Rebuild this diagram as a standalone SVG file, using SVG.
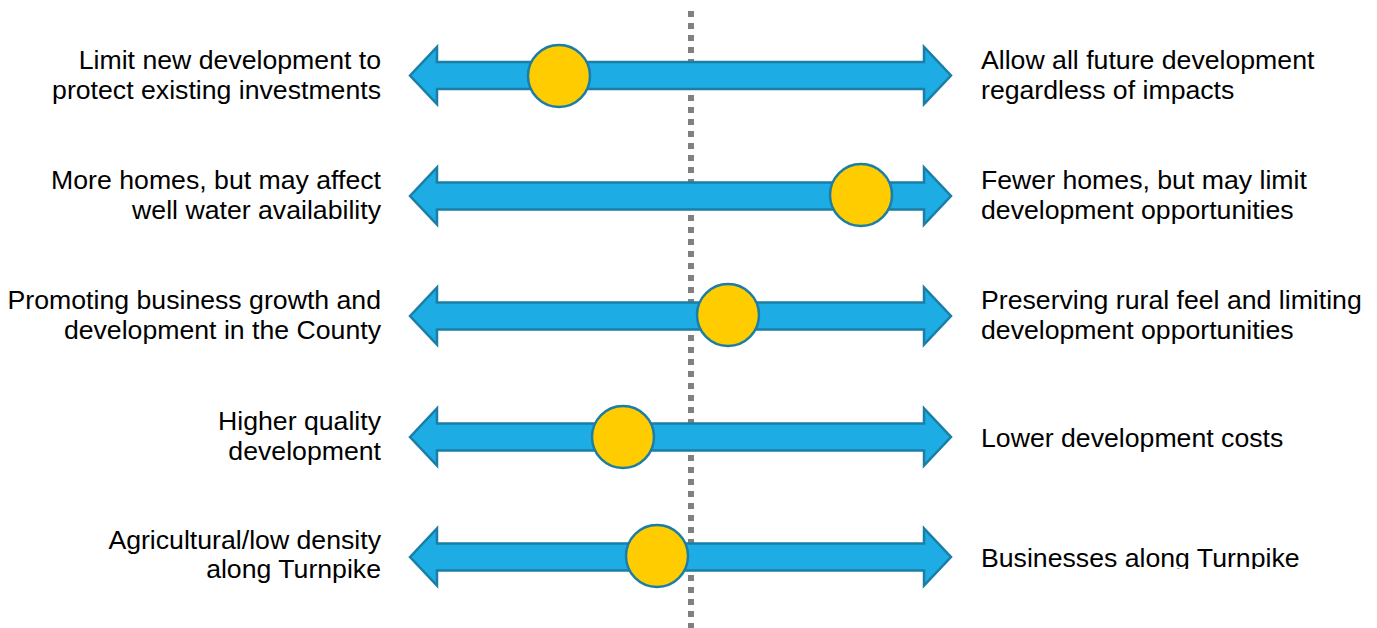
<svg xmlns="http://www.w3.org/2000/svg" width="1377" height="628" viewBox="0 0 1377 628">
<defs>
<style>
.arrow{fill:#1DACE3;stroke:#1A7EA6;stroke-width:2.5;stroke-linejoin:miter}
.dot{fill:#FFCC00;stroke:#1A7EA6;stroke-width:2.5}
.t{font-family:"Liberation Sans",Arial,sans-serif;font-size:26.67px;fill:#000}
.l{text-anchor:end}
.center{stroke:#808080;stroke-width:6;stroke-dasharray:6 6;fill:none}
</style>
<path id="arr" d="M410,0 L437,-28.5 L437,-13.5 L924,-13.5 L924,-28.5 L951,0 L924,28.5 L924,13.5 L437,13.5 L437,28.5 Z"/>
<clipPath id="clipR5"><rect x="960" y="500" width="417" height="69"/></clipPath>
<clipPath id="clipL5"><rect x="0" y="500" width="400" height="85"/></clipPath>
</defs>
<rect width="1377" height="628" fill="#fff"/>
<g id="midline">
<line class="center" x1="691" y1="11" x2="691" y2="628"/>
</g>
<g id="row1">
<use href="#arr" class="arrow" transform="translate(0,75.5)"/>
<circle class="dot" cx="559" cy="76" r="31"/>
<text class="t l" x="381" y="69">Limit new development to</text>
<text class="t l" x="381" y="99">protect existing investments</text>
<text class="t" x="981" y="69">Allow all future development</text>
<text class="t" x="981" y="99">regardless of impacts</text>
</g>
<g id="row2">
<use href="#arr" class="arrow" transform="translate(0,196)"/>
<circle class="dot" cx="861" cy="195" r="31"/>
<text class="t l" x="381" y="189">More homes, but may affect</text>
<text class="t l" x="381" y="219">well water availability</text>
<text class="t" x="981" y="189">Fewer homes, but may limit</text>
<text class="t" x="981" y="219">development opportunities</text>
</g>
<g id="row3">
<use href="#arr" class="arrow" transform="translate(0,316)"/>
<circle class="dot" cx="728" cy="315" r="31"/>
<text class="t l" x="381" y="309">Promoting business growth and</text>
<text class="t l" x="381" y="339">development in the County</text>
<text class="t" x="981" y="309">Preserving rural feel and limiting</text>
<text class="t" x="981" y="339">development opportunities</text>
</g>
<g id="row4">
<use href="#arr" class="arrow" transform="translate(0,437)"/>
<circle class="dot" cx="623" cy="437" r="31"/>
<text class="t l" x="381" y="430">Higher quality</text>
<text class="t l" x="381" y="460">development</text>
<text class="t" x="981" y="447">Lower development costs</text>
</g>
<g id="row5">
<use href="#arr" class="arrow" transform="translate(0,557)"/>
<circle class="dot" cx="657" cy="556" r="31"/>
<g clip-path="url(#clipL5)">
<text class="t l" x="381" y="549">Agricultural/low density</text>
<text class="t l" x="381" y="578">along Turnpike</text>
</g>
<g clip-path="url(#clipR5)">
<text class="t" x="981" y="567">Businesses along Turnpike</text>
</g>
</g>
</svg>
